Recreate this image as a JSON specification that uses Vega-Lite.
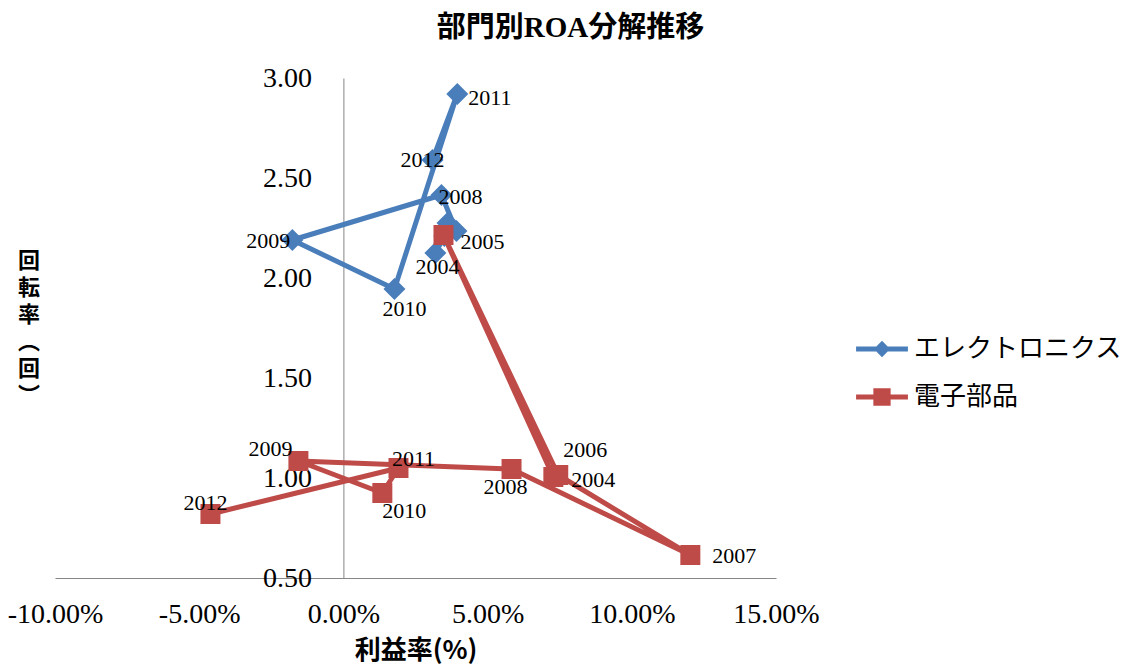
{
  "$schema": "https://vega.github.io/schema/vega-lite/v6.json",
  "width": 721,
  "height": 500,
  "autosize": {"type": "none"},
  "padding": {"left": 55, "top": 78, "right": 353, "bottom": 87},
  "background": "white",
  "title": {
    "text": "部門別ROA分解推移",
    "font": "Liberation Serif, Noto Sans CJK JP",
    "fontSize": 29,
    "fontWeight": "bold",
    "color": "black",
    "anchor": "middle",
    "dx": 155,
    "offset": 21
  },
  "config": {
    "view": {"stroke": null},
    "axis": {
      "grid": false,
      "ticks": false,
      "domainColor": "#868686",
      "domainWidth": 1,
      "labelFont": "Liberation Serif",
      "labelColor": "black",
      "labelFontSize": 28,
      "titleFont": "Noto Sans CJK JP",
      "titleColor": "black",
      "titleFontSize": 24,
      "titleFontWeight": "bold"
    }
  },
  "data": {
    "values": [
      {"series": "エレクトロニクス", "year": 2004, "margin": 3.19, "turnover": 2.125},
      {"series": "エレクトロニクス", "year": 2005, "margin": 3.50, "turnover": 2.21},
      {"series": "エレクトロニクス", "year": 2006, "margin": 3.61, "turnover": 2.275},
      {"series": "エレクトロニクス", "year": 2007, "margin": 3.92, "turnover": 2.235},
      {"series": "エレクトロニクス", "year": 2008, "margin": 3.40, "turnover": 2.415},
      {"series": "エレクトロニクス", "year": 2009, "margin": -1.77, "turnover": 2.19},
      {"series": "エレクトロニクス", "year": 2010, "margin": 1.77, "turnover": 1.945},
      {"series": "エレクトロニクス", "year": 2011, "margin": 3.95, "turnover": 2.92},
      {"series": "エレクトロニクス", "year": 2012, "margin": 3.09, "turnover": 2.59},
      {"series": "電子部品", "year": 2004, "margin": 7.28, "turnover": 1.005},
      {"series": "電子部品", "year": 2005, "margin": 3.47, "turnover": 2.215},
      {"series": "電子部品", "year": 2006, "margin": 7.45, "turnover": 1.015},
      {"series": "電子部品", "year": 2007, "margin": 12.03, "turnover": 0.615},
      {"series": "電子部品", "year": 2008, "margin": 5.83, "turnover": 1.045},
      {"series": "電子部品", "year": 2009, "margin": -1.56, "turnover": 1.085},
      {"series": "電子部品", "year": 2010, "margin": 1.35, "turnover": 0.925},
      {"series": "電子部品", "year": 2011, "margin": 1.91, "turnover": 1.05},
      {"series": "電子部品", "year": 2012, "margin": -4.61, "turnover": 0.82}
    ]
  },
  "encoding": {
    "x": {
      "field": "margin",
      "type": "quantitative",
      "scale": {"domain": [-10, 15], "nice": false, "zero": false},
      "axis": {
        "title": "利益率(%)",
        "titleFontSize": 26,
        "values": [-10, -5, 0, 5, 10, 15],
        "labelExpr": "replace(format(datum.value, '.2f'), '−', '-') + '%'",
        "labelPadding": 22,
        "titlePadding": 9,
        "labelFlush": false,
        "labelOverlap": false
      }
    },
    "y": {
      "field": "turnover",
      "type": "quantitative",
      "scale": {"domain": [0.5, 3], "nice": false, "zero": false},
      "axis": {
        "title": ["回", "転", "率", "︵", "回", "︶"],
        "titleFontSize": 22,
        "titleAngle": 0,
        "titleAlign": "center",
        "titleBaseline": "top",
        "titleLineHeight": 27,
        "titleX": -315,
        "titleY": 172,
        "offset": -288.4,
        "values": [0.5, 1, 1.5, 2, 2.5, 3],
        "format": ".2f",
        "labelPadding": 32,
        "labelFlush": false,
        "labelOverlap": false
      }
    }
  },
  "layer": [
    {
      "mark": {"type": "line", "strokeWidth": 5, "strokeJoin": "round"},
      "encoding": {
        "order": {"field": "year", "type": "quantitative"},
        "color": {
          "field": "series",
          "type": "nominal",
          "sort": ["エレクトロニクス", "電子部品"],
          "scale": {"domain": ["エレクトロニクス", "電子部品"], "range": ["#4A7EBB", "#BE4B48"]},
          "legend": {
            "title": null,
            "orient": "none",
            "legendX": 803,
            "legendY": 247,
            "padding": 0,
            "rowPadding": 11,
            "symbolSize": 2304,
            "labelOffset": 8,
            "labelFont": "Noto Sans CJK JP",
            "labelFontSize": 26,
            "labelColor": "black",
            "labelLimit": 400,
            "encode": {
              "symbols": {
                "update": {
                  "shape": {"signal": "datum.value == 'エレクトロニクス' ? 'M-1.08,-0.1H1.08V0.1H-1.08Z M0,-0.34L0.34,0L0,0.34L-0.34,0Z' : 'M-1.08,-0.1H1.08V0.1H-1.08Z M-0.36,-0.36H0.36V0.36H-0.36Z'"},
                  "fill": {"signal": "datum.value == 'エレクトロニクス' ? '#4A7EBB' : '#BE4B48'"},
                  "stroke": {"value": "transparent"},
                  "strokeWidth": {"value": 0},
                  "size": {"value": 2304},
                  "opacity": {"value": 1}
                }
              }
            }
          }
        }
      }
    },
    {
      "transform": [{"filter": "datum.series == 'エレクトロニクス'"}],
      "mark": {"type": "point", "shape": "diamond", "size": 484, "filled": true, "opacity": 1},
      "encoding": {"color": {"field": "series", "type": "nominal", "legend": null}}
    },
    {
      "transform": [{"filter": "datum.series == '電子部品'"}],
      "mark": {"type": "point", "shape": "square", "size": 400, "filled": true, "opacity": 1},
      "encoding": {"color": {"field": "series", "type": "nominal", "legend": null}}
    },
    {
      "transform": [{"filter": "datum.series == 'エレクトロニクス' && datum.year == 2004"}],
      "mark": {"type": "text", "align": "center", "baseline": "middle", "dx": 2, "dy": 14, "font": "Liberation Serif", "fontSize": 22, "color": "black"},
      "encoding": {"text": {"field": "year", "type": "nominal"}}
    },
    {
      "transform": [{"filter": "datum.series == 'エレクトロニクス' && datum.year == 2008"}],
      "mark": {"type": "text", "align": "left", "baseline": "middle", "dx": -3, "dy": 2, "font": "Liberation Serif", "fontSize": 22, "color": "black"},
      "encoding": {"text": {"field": "year", "type": "nominal"}}
    },
    {
      "transform": [{"filter": "datum.series == 'エレクトロニクス' && datum.year == 2009"}],
      "mark": {"type": "text", "align": "right", "baseline": "middle", "dx": -2, "dy": 1, "font": "Liberation Serif", "fontSize": 22, "color": "black"},
      "encoding": {"text": {"field": "year", "type": "nominal"}}
    },
    {
      "transform": [{"filter": "datum.series == 'エレクトロニクス' && datum.year == 2010"}],
      "mark": {"type": "text", "align": "center", "baseline": "middle", "dx": 10, "dy": 20, "font": "Liberation Serif", "fontSize": 22, "color": "black"},
      "encoding": {"text": {"field": "year", "type": "nominal"}}
    },
    {
      "transform": [{"filter": "datum.series == 'エレクトロニクス' && datum.year == 2011"}],
      "mark": {"type": "text", "align": "left", "baseline": "middle", "dx": 11, "dy": 4, "font": "Liberation Serif", "fontSize": 22, "color": "black"},
      "encoding": {"text": {"field": "year", "type": "nominal"}}
    },
    {
      "transform": [{"filter": "datum.series == 'エレクトロニクス' && datum.year == 2012"}],
      "mark": {"type": "text", "align": "center", "baseline": "middle", "dx": -10, "dy": 0, "font": "Liberation Serif", "fontSize": 22, "color": "black"},
      "encoding": {"text": {"field": "year", "type": "nominal"}}
    },
    {
      "transform": [{"filter": "datum.series == '電子部品' && datum.year == 2004"}],
      "mark": {"type": "text", "align": "left", "baseline": "middle", "dx": 18, "dy": 3, "font": "Liberation Serif", "fontSize": 22, "color": "black"},
      "encoding": {"text": {"field": "year", "type": "nominal"}}
    },
    {
      "transform": [{"filter": "datum.series == '電子部品' && datum.year == 2005"}],
      "mark": {"type": "text", "align": "left", "baseline": "middle", "dx": 17, "dy": 7, "font": "Liberation Serif", "fontSize": 22, "color": "black"},
      "encoding": {"text": {"field": "year", "type": "nominal"}}
    },
    {
      "transform": [{"filter": "datum.series == '電子部品' && datum.year == 2006"}],
      "mark": {"type": "text", "align": "left", "baseline": "middle", "dx": 5, "dy": -25, "font": "Liberation Serif", "fontSize": 22, "color": "black"},
      "encoding": {"text": {"field": "year", "type": "nominal"}}
    },
    {
      "transform": [{"filter": "datum.series == '電子部品' && datum.year == 2007"}],
      "mark": {"type": "text", "align": "left", "baseline": "middle", "dx": 22, "dy": 1, "font": "Liberation Serif", "fontSize": 22, "color": "black"},
      "encoding": {"text": {"field": "year", "type": "nominal"}}
    },
    {
      "transform": [{"filter": "datum.series == '電子部品' && datum.year == 2008"}],
      "mark": {"type": "text", "align": "center", "baseline": "middle", "dx": -6, "dy": 18, "font": "Liberation Serif", "fontSize": 22, "color": "black"},
      "encoding": {"text": {"field": "year", "type": "nominal"}}
    },
    {
      "transform": [{"filter": "datum.series == '電子部品' && datum.year == 2009"}],
      "mark": {"type": "text", "align": "right", "baseline": "middle", "dx": -6, "dy": -12, "font": "Liberation Serif", "fontSize": 22, "color": "black"},
      "encoding": {"text": {"field": "year", "type": "nominal"}}
    },
    {
      "transform": [{"filter": "datum.series == '電子部品' && datum.year == 2010"}],
      "mark": {"type": "text", "align": "center", "baseline": "middle", "dx": 22, "dy": 18, "font": "Liberation Serif", "fontSize": 22, "color": "black"},
      "encoding": {"text": {"field": "year", "type": "nominal"}}
    },
    {
      "transform": [{"filter": "datum.series == '電子部品' && datum.year == 2011"}],
      "mark": {"type": "text", "align": "center", "baseline": "middle", "dx": 15, "dy": -9, "font": "Liberation Serif", "fontSize": 22, "color": "black"},
      "encoding": {"text": {"field": "year", "type": "nominal"}}
    },
    {
      "transform": [{"filter": "datum.series == '電子部品' && datum.year == 2012"}],
      "mark": {"type": "text", "align": "center", "baseline": "middle", "dx": -5, "dy": -11, "font": "Liberation Serif", "fontSize": 22, "color": "black"},
      "encoding": {"text": {"field": "year", "type": "nominal"}}
    }
  ]
}
